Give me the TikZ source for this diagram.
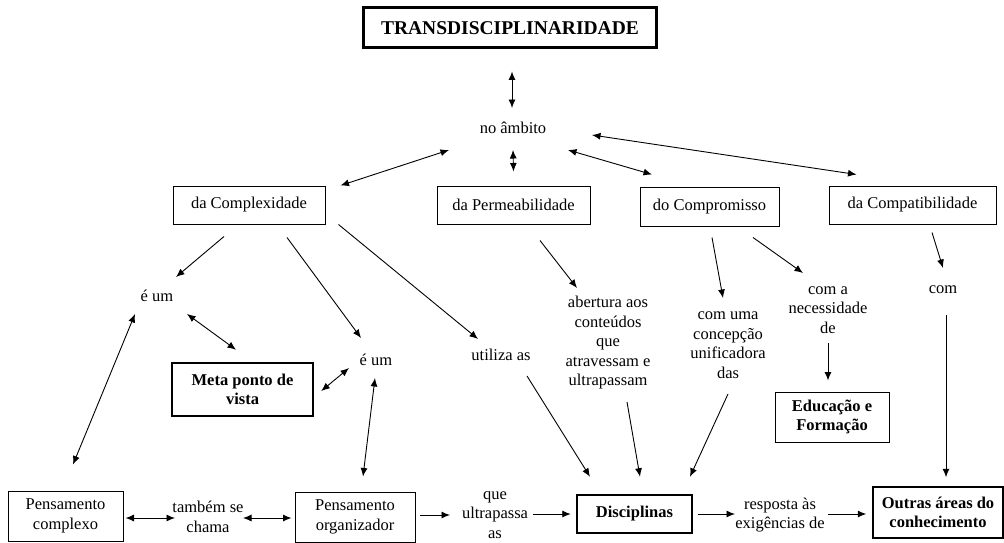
\documentclass[tikz,border=0pt]{standalone}
\usepackage{fontspec}
\setmainfont{Liberation Serif}
\usetikzlibrary{arrows.meta}
\begin{document}
\begin{tikzpicture}[x=1pt,y=-1pt,
    every node/.style={font=\fontsize{16.5}{19.5}\selectfont, align=center},
    lbl/.style={inner sep=2pt},
    box/.style={draw, line width=1pt, inner sep=2pt},
    boldbox/.style={box, font=\fontsize{16.5}{19.5}\selectfont\bfseries},
    thickbox/.style={boldbox, line width=2.5pt},
    arr/.style={-{Latex[length=8.5pt,width=7pt]}, line width=0.9pt},
    dbl/.style={{Latex[length=8.5pt,width=7pt]}-{Latex[length=8.5pt,width=7pt]}, line width=0.9pt}]
    \useasboundingbox (0,0) rectangle (1004,543);
    \node[thickbox, line width=3pt, minimum width=293, minimum height=40,
        font=\fontsize{19.5}{21}\selectfont\bfseries] (title) at (510,28) {TRANSDISCIPLINARIDADE};
    \node[lbl] (ambito) at (513,128) {no âmbito};
    \node[box, minimum width=152, minimum height=38] (cplx) at (249,205) {da Complexidade};
    \node[box, minimum width=153, minimum height=38] (perm) at (513.5,205) {da Permeabilidade};
    \node[box, minimum width=139, minimum height=39] (comp) at (709.5,206.5) {do Compromisso};
    \node[box, minimum width=167, minimum height=38] (compat) at (912.5,205) {da Compatibilidade};
    \node[lbl] (eum1) at (157,296) {é um};
    \node[thickbox, minimum width=141, minimum height=53] (meta) at (242.5,389.5) {Meta ponto de\\vista};
    \node[lbl] (eum2) at (376,360) {é um};
    \node[lbl] (utiliza) at (501,355) {utiliza as};
    \node[lbl] (abert) at (608,343) {abertura aos\\conteúdos\\que\\atravessam e\\ultrapassam};
    \node[lbl] (concep) at (728,345) {com uma\\concepção\\unificadora\\das};
    \node[lbl] (neces) at (828,310) {com a\\necessidade\\de};
    \node[lbl] (com) at (943,290) {com};
    \node[boldbox, minimum width=114, minimum height=50] (educ) at (832,417) {Educação e\\Formação};
    \node[box, minimum width=115, minimum height=50] (pcomp) at (65.5,516) {Pensamento\\complexo};
    \node[lbl] (tambem) at (208,517) {também se\\chama};
    \node[box, minimum width=120, minimum height=50] (porg) at (355,517) {Pensamento\\organizador};
    \node[lbl] (ultra) at (495,515) {que\\ultrapassa\\as};
    \node[thickbox, minimum width=115, minimum height=38] (disc) at (634.5,514) {Disciplinas};
    \node[lbl] (resp) at (780,515) {resposta às\\exigências de};
    \node[boldbox, line width=1.5pt, minimum width=130, minimum height=51] (outras) at (938,512.5) {Outras áreas do\\conhecimento};

    \draw[dbl] ([shift={(2,22)}]title.south) -- ([shift={(-1,-20)}]ambito.center);
    \draw[dbl] ([shift={(0,22)}]ambito.center) -- ([shift={(0,-14)}]perm.north);
    \draw[dbl] ([shift={(-64,22)}]ambito.center) -- ([shift={(15,0)}]cplx.north east);
    \draw[dbl] ([shift={(55,22)}]ambito.center) -- ([shift={(-57.5,-12)}]comp.north);
    \draw[dbl] ([shift={(79,7)}]ambito.center) -- ([shift={(28,-11)}]compat.north west);
    \draw[arr] ([shift={(-25,12)}]cplx.south) -- ([shift={(19,-19)}]eum1.center);
    \draw[arr] ([shift={(38,13)}]cplx.south) -- ([shift={(-15,-22)}]eum2.center);
    \draw[arr] ([shift={(13,0)}]cplx.south east) -- ([shift={(-23,-16)}]utiliza.center);
    \draw[dbl] ([shift={(30,18)}]eum1.center) -- ([shift={(-6.5,-12)}]meta.north);
    \draw[dbl] ([shift={(-22,18)}]eum1.center) -- ([shift={(7.5,-26)}]pcomp.north);
    \draw[dbl] ([shift={(7,1.5)}]meta.east) -- ([shift={(-27,8)}]eum2.center);
    \draw[dbl] ([shift={(-1,18)}]eum2.center) -- ([shift={(8,-15)}]porg.north);
    \draw[dbl] ([shift={(2,2)}]pcomp.east) -- ([shift={(-33,1)}]tambem.center);
    \draw[dbl] ([shift={(35,1)}]tambem.center) -- ([shift={(-3,1)}]porg.west);
    \draw[arr] ([shift={(4,-2)}]porg.east) -- ([shift={(-45,0)}]ultra.center);
    \draw[arr] ([shift={(38,-1)}]ultra.center) -- ([shift={(-5,0)}]disc.west);
    \draw[arr] ([shift={(26,21)}]utiliza.center) -- ([shift={(-44.5,-17)}]disc.north);
    \draw[arr] ([shift={(26.5,16)}]perm.south) -- ([shift={(-31,-55)}]abert.center);
    \draw[arr] ([shift={(19,59)}]abert.center) -- ([shift={(5.5,-17)}]disc.north);
    \draw[arr] ([shift={(2.5,11)}]comp.south) -- ([shift={(-5,-47)}]concep.center);
    \draw[arr] ([shift={(0,49)}]concep.center) -- ([shift={(55.5,-17)}]disc.north);
    \draw[arr] ([shift={(43.5,11)}]comp.south) -- ([shift={(-25,-37)}]neces.center);
    \draw[arr] ([shift={(0,33)}]neces.center) -- ([shift={(-4,-11)}]educ.north);
    \draw[arr] ([shift={(19.5,8)}]compat.south) -- ([shift={(0,-22)}]com.center);
    \draw[arr] ([shift={(3,25)}]com.center) -- ([shift={(8,-9)}]outras.north);
    \draw[arr] ([shift={(5,0)}]disc.east) -- ([shift={(-45,-1)}]resp.center);
    \draw[arr] ([shift={(48,-1)}]resp.center) -- ([shift={(-6,1.5)}]outras.west);
\end{tikzpicture}
\end{document}
